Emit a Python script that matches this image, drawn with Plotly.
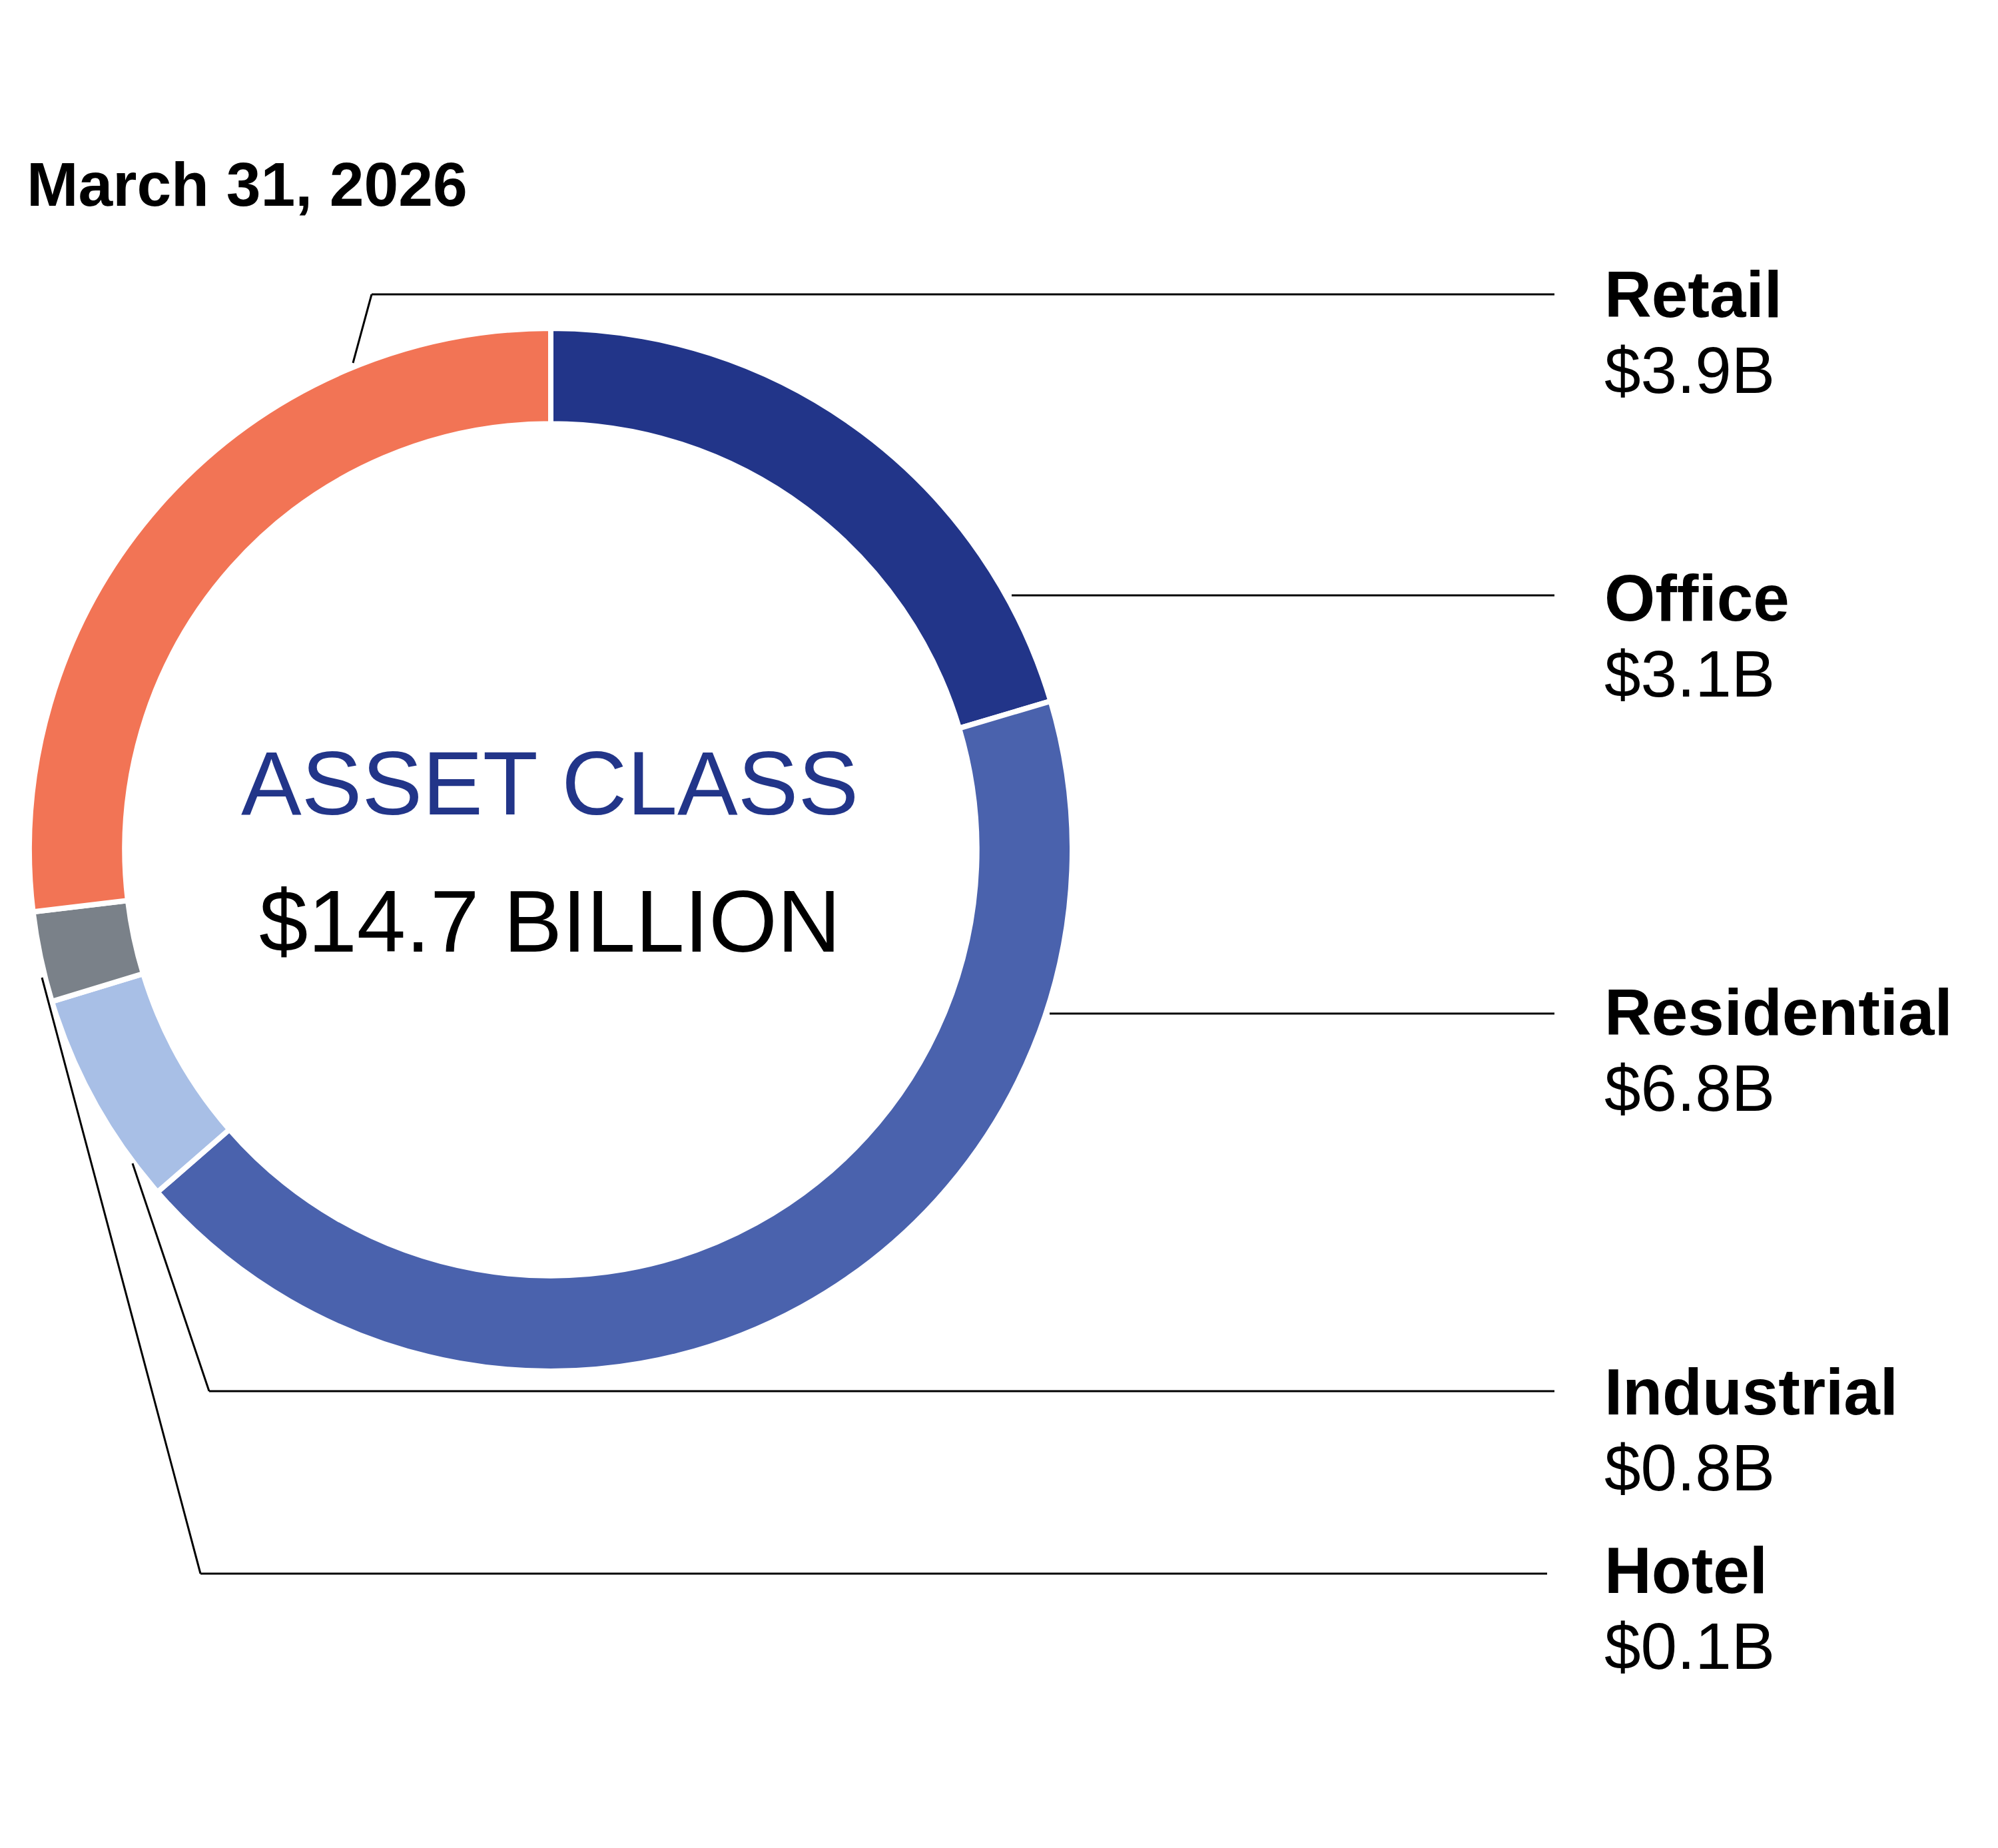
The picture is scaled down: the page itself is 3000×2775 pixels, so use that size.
import plotly.graph_objects as go

# asset class split, clockwise from 12 o'clock
categories = ["Office", "Residential", "Industrial", "Hotel", "Retail"]
share_pct = [20.4, 43.2, 6.7, 2.8, 26.9]      # slice sizes as drawn
amounts_b = [3.1, 6.8, 0.8, 0.1, 3.9]          # labelled amounts ($B)
total_b = 14.7
as_of = "March 31, 2026"

colors = {
    "Office": "#223589",
    "Residential": "#4A62AD",
    "Industrial": "#A8BFE6",
    "Hotel": "#7A8189",
    "Retail": "#F27455",
}

W, H = 3000, 2775
OFF = 8  # page body margin the plot div sits inside
FONT = "Liberation Sans, Arial, sans-serif"


def px(x, y):
    # page pixel (from top-left) -> paper coords
    return (x - OFF) / W, 1 - (y - OFF) / H


# leader lines (pixel points) and label y for each category
leaders = {
    "Retail": [(530, 545), (558, 442), (2334, 442)],
    "Office": [(1519, 894), (2334, 894)],
    "Residential": [(1576, 1522), (2334, 1522)],
    "Industrial": [(199, 1747), (314, 2089), (2334, 2089)],
    "Hotel": [(63, 1468), (301, 2363), (2323, 2363)],
}
label_y = {"Retail": 442, "Office": 898, "Residential": 1520,
           "Industrial": 2090, "Hotel": 2358}
value_gap = 114
label_x = 2407

cx, cy, R = 827, 1276, 783
x0, y1 = px(cx - R, cy - R)
x1, y0 = px(cx + R, cy + R)

fig = go.Figure(go.Pie(
    labels=categories,
    values=share_pct,
    sort=False,
    direction="clockwise",
    rotation=0,
    hole=0.817,
    textinfo="none",
    hoverinfo="label",
    marker=dict(colors=[colors[c] for c in categories],
                line=dict(color="white", width=8)),
    domain=dict(x=[x0, x1], y=[y0, y1]),
    showlegend=False,
))

shapes = []
for cat, pts in leaders.items():
    for (ax, ay), (bx, by) in zip(pts[:-1], pts[1:]):
        xa, ya = px(ax, ay)
        xb, yb = px(bx, by)
        shapes.append(dict(type="line", xref="paper", yref="paper",
                           x0=xa, y0=ya, x1=xb, y1=yb,
                           line=dict(color="black", width=3)))

annotations = []
for cat, amt in zip(categories, amounts_b):
    lx, ly = px(label_x, label_y[cat])
    annotations.append(dict(x=lx, y=ly, xref="paper", yref="paper",
                            text=f"<b>{cat}</b>", showarrow=False,
                            xanchor="left", yanchor="middle",
                            font=dict(family=FONT, size=98, color="black")))
    vx, vy = px(label_x, label_y[cat] + value_gap)
    annotations.append(dict(x=vx, y=vy, xref="paper", yref="paper",
                            text=f"${amt}B", showarrow=False,
                            xanchor="left", yanchor="middle",
                            font=dict(family=FONT, size=98, color="black")))

tx, ty = px(38, 277)
annotations.append(dict(x=tx, y=ty, xref="paper", yref="paper",
                        text=f"<b>{as_of}</b>", showarrow=False,
                        xanchor="left", yanchor="middle",
                        font=dict(family=FONT, size=93, color="black")))

ax_, ay_ = px(825, 1176)
annotations.append(dict(x=ax_, y=ay_, xref="paper", yref="paper",
                        text="ASSET CLASS", showarrow=False,
                        xanchor="center", yanchor="middle",
                        font=dict(family=FONT, size=136, color="#223589")))
bx_, by_ = px(825, 1383)
annotations.append(dict(x=bx_, y=by_, xref="paper", yref="paper",
                        text=f"${total_b} BILLION", showarrow=False,
                        xanchor="center", yanchor="middle",
                        font=dict(family=FONT, size=132, color="black")))

fig.update_layout(
    width=W, height=H,
    margin=dict(l=0, r=0, t=0, b=0),
    paper_bgcolor="white",
    plot_bgcolor="white",
    shapes=shapes,
    annotations=annotations,
)

fig.write_html("out.html")
